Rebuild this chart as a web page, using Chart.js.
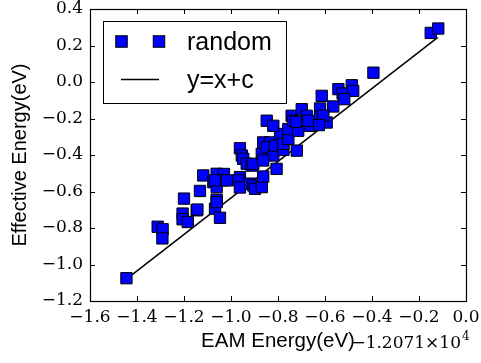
<!DOCTYPE html>
<html>
<head>
<meta charset="utf-8">
<script src="https://cdn.jsdelivr.net/npm/chart.js@4"></script>
<style>
  html, body { margin: 0; padding: 0; background: #fff; }
  #wrap { width: 481px; height: 363px; }
</style>
</head>
<body>
<div id="wrap"><canvas id="chart" width="481" height="363"></canvas></div>
<script>
// scatter points: EAM energy vs effective energy (eV, offset -1.2071e4)
const randomX = [
  -1.445, -1.312, -1.291, -1.292, -1.206, -1.206, -1.184, -1.146, -1.200, -1.132,
  -1.118, -1.061, -1.030, -1.033, -1.075, -1.061, -1.068, -1.061, -1.068, -1.047,
  -1.061, -1.143, -0.962, -0.969, -0.962, -0.919, -0.905, -0.898, -0.869, -0.863,
  -1.018, -0.962, -0.954, -0.948, -0.933, -0.912, -0.905, -0.869, -0.863, -0.834,
  -0.848, -0.820, -0.813, -0.806, -0.863, -0.777, -0.720, -0.791, -0.777, -0.756,
  -0.756, -0.714, -0.848, -0.820, -0.742, -0.735, -0.699, -0.678, -0.664, -0.621,
  -0.621, -0.614, -0.593, -0.565, -0.607, -0.626, -0.543, -0.486, -0.525, -0.480,
  -0.518, -0.394, -0.150, -0.118, -0.672, -0.723
];
const randomY = [
  -1.075, -0.793, -0.807, -0.857, -0.721, -0.752, -0.767, -0.703, -0.639, -0.597,
  -0.512, -0.503, -0.504, -0.539, -0.549, -0.576, -0.539, -0.645, -0.694, -0.744,
  -0.658, -0.699, -0.521, -0.539, -0.578, -0.557, -0.567, -0.585, -0.576, -0.518,
  -0.539, -0.363, -0.403, -0.421, -0.448, -0.458, -0.448, -0.394, -0.331, -0.331,
  -0.358, -0.403, -0.349, -0.476, -0.430, -0.372, -0.376, -0.285, -0.339, -0.312,
  -0.258, -0.267, -0.212, -0.240, -0.185, -0.212, -0.149, -0.185, -0.240, -0.145,
  -0.194, -0.076, -0.222, -0.134, -0.185, -0.236, -0.039, -0.018, -0.063, -0.049,
  -0.094, 0.051, 0.269, 0.293, -0.212, -0.218
];

// fitted line y = x + c, endpoints
const lineX = [-1.445, -0.120];
const lineY = [-1.080, 0.245];

const xTicks = [-1.6, -1.4, -1.2, -1.0, -0.8, -0.6, -0.4, -0.2, 0.0];
const yTicks = [-1.2, -1.0, -0.8, -0.6, -0.4, -0.2, 0.0, 0.2, 0.4];
const offsetText = '\u22121.2071\u00d710';
const offsetExp = '4';

const serif = '"DejaVu Serif", "Liberation Serif", serif';
const sans = '"Liberation Sans", Arial, sans-serif';

function fmtTick(v) {
  const s = Math.abs(v).toFixed(1);
  return (v < -1e-9 ? '\u2212' : '') + s;
}

function drawSquare(ctx, x, y, side) {
  ctx.fillStyle = '#0000ff';
  ctx.strokeStyle = '#000';
  ctx.lineWidth = 1;
  ctx.fillRect(x - side / 2, y - side / 2, side, side);
  ctx.strokeRect(x - side / 2, y - side / 2, side, side);
}

// frame, inward ticks on all sides, legend box and the offset label
const decorations = {
  id: 'decorations',
  afterDraw(chart) {
    const ctx = chart.ctx;
    const a = chart.chartArea;
    const xs = chart.scales.x;
    const ys = chart.scales.y;
    ctx.save();
    ctx.strokeStyle = '#000';
    ctx.lineWidth = 1;
    ctx.beginPath();
    const tl = 5;
    xTicks.forEach(v => {
      const px = Math.round(xs.getPixelForValue(v)) + 0.5;
      ctx.moveTo(px, a.bottom); ctx.lineTo(px, a.bottom - tl);
      ctx.moveTo(px, a.top); ctx.lineTo(px, a.top + tl);
    });
    yTicks.forEach(v => {
      const py = Math.round(ys.getPixelForValue(v)) + 0.5;
      ctx.moveTo(a.left, py); ctx.lineTo(a.left + tl, py);
      ctx.moveTo(a.right, py); ctx.lineTo(a.right - tl, py);
    });
    ctx.stroke();
    ctx.lineWidth = 1.2;
    ctx.strokeRect(Math.round(a.left) + 0.5, Math.round(a.top) + 0.5,
      Math.round(a.right - a.left), Math.round(a.bottom - a.top));

    // legend
    const ds = chart.data.datasets;
    ctx.fillStyle = '#fff';
    ctx.fillRect(103, 21, 183, 82);
    ctx.lineWidth = 1;
    ctx.strokeStyle = '#000';
    ctx.strokeRect(103.5, 21.5, 183, 82);
    drawSquare(ctx, 121.5, 41.5, 11.5);
    drawSquare(ctx, 159, 41.5, 11.5);
    ctx.beginPath();
    ctx.strokeStyle = '#000';
    ctx.lineWidth = 1.5;
    ctx.moveTo(121, 79.5);
    ctx.lineTo(159, 79.5);
    ctx.stroke();
    ctx.fillStyle = '#000';
    ctx.font = '25px ' + sans;
    ctx.textAlign = 'left';
    ctx.textBaseline = 'alphabetic';
    ctx.fillText(ds[0].label, 187, 50);
    ctx.fillText(ds[1].label, 187, 88);

    // axis offset
    ctx.font = '17px ' + serif;
    ctx.textAlign = 'left';
    const expW = 8;
    const w = ctx.measureText(offsetText).width;
    const x0 = a.right + 3 - expW - w;
    ctx.fillText(offsetText, x0, 348);
    ctx.font = '12px ' + serif;
    ctx.fillText(offsetExp, x0 + w + 1, 340);
    ctx.restore();
  }
};

const ctx = document.getElementById('chart').getContext('2d');
new Chart(ctx, {
  type: 'scatter',
  data: {
    datasets: [
      {
        label: 'random',
        data: randomX.map((x, i) => ({ x: x, y: randomY[i] })),
        pointStyle: 'rect',
        pointRadius: 8,
        pointHoverRadius: 8,
        backgroundColor: '#0000ff',
        borderColor: '#000',
        borderWidth: 1,
        order: 1
      },
      {
        label: 'y=x+c',
        type: 'line',
        data: lineX.map((x, i) => ({ x: x, y: lineY[i] })),
        showLine: true,
        borderColor: '#000',
        borderWidth: 1.5,
        pointRadius: 0,
        fill: false,
        order: 2
      }
    ]
  },
  options: {
    responsive: false,
    devicePixelRatio: 1,
    animation: false,
    layout: { padding: { top: 8, right: 15, left: 0, bottom: 0 } },
    plugins: {
      legend: { display: false },
      tooltip: { enabled: false }
    },
    scales: {
      x: {
        type: 'linear',
        min: -1.6,
        max: 0.0,
        grid: { display: false, drawTicks: false },
        border: { display: false },
        afterBuildTicks: s => { s.ticks = xTicks.map(v => ({ value: v })); },
        afterFit: s => { s.height = 62; },
        ticks: {
          color: '#000',
          padding: 1,
          maxRotation: 0,
          autoSkip: false,
          font: { family: serif, size: 17, lineHeight: 1.8 },
          callback: v => fmtTick(v)
        },
        title: {
          display: true,
          text: 'EAM Energy(eV)',
          color: '#000',
          font: { family: sans, size: 20.5 },
          padding: { top: 0, bottom: 9 }
        }
      },
      y: {
        type: 'linear',
        min: -1.2,
        max: 0.4,
        grid: { display: false, drawTicks: false },
        border: { display: false },
        afterBuildTicks: s => { s.ticks = yTicks.map(v => ({ value: v })); },
        afterFit: s => { s.width = 90; },
        ticks: {
          color: '#000',
          padding: 7,
          autoSkip: false,
          font: { family: serif, size: 17, lineHeight: 0.1 },
          callback: v => fmtTick(v)
        },
        title: {
          display: true,
          text: 'Effective Energy(eV)',
          color: '#000',
          font: { family: sans, size: 20 },
          padding: { top: 8, bottom: 0 }
        }
      }
    }
  },
  plugins: [decorations]
});
</script>
</body>
</html>
